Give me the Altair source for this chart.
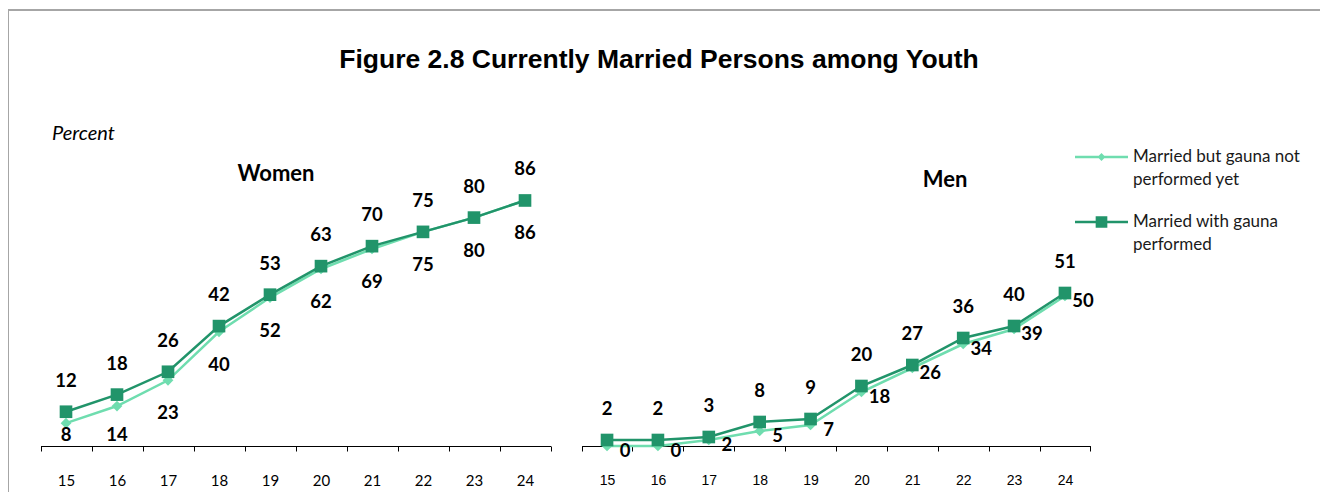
import altair as alt
import pandas as pd

# ---------------- data ----------------
ages = ["15", "16", "17", "18", "19", "20", "21", "22", "23", "24"]
women_not_performed = [8, 14, 23, 40, 52, 62, 69, 75, 80, 86]
women_performed = [12, 18, 26, 42, 53, 63, 70, 75, 80, 86]
men_not_performed = [0, 0, 2, 5, 7, 18, 26, 34, 39, 50]
men_performed = [2, 2, 3, 8, 9, 20, 27, 36, 40, 51]
series_names = ["Married but gauna not performed yet", "Married with gauna performed"]

title_text = "Figure 2.8 Currently Married Persons among Youth"

# ---------------- style ----------------
LIGHT = "#6FDDAF"
DARK = "#21946A"
W, H = 1312, 484
BASE = 438  # pixel row of the x axis inside the view


def frame(vals):
    return pd.DataFrame({"age": ages, "v": vals})


def panel(not_vals, with_vals, xrange, ypx, axis_font, axis_size, men=False):
    xenc = alt.X(
        "age:O",
        scale=alt.Scale(type="band", domain=ages, range=xrange, paddingInner=0, paddingOuter=0),
        axis=alt.Axis(
            orient="bottom", offset=BASE - H, tickBand="extent", labelAngle=0, title=None,
            domainColor="#000000", domainWidth=1, tickColor="#000000", tickSize=5, tickWidth=1,
            labelPadding=22, labelFont=axis_font, labelFontSize=axis_size, labelColor="#000000", grid=False,
        ),
    )
    yscale = alt.Scale(domain=[0, 100], range=[BASE, BASE - ypx])
    yenc = alt.Y("v:Q", scale=yscale, axis=None)

    light = alt.Chart(frame(not_vals))
    dark = alt.Chart(frame(with_vals))

    l_line = light.mark_line(color=LIGHT, strokeWidth=2.5).encode(x=xenc, y=yenc)
    l_pts = light.mark_point(shape="diamond", filled=True, size=115, color=LIGHT, opacity=1).encode(x=xenc, y=yenc)
    d_line = dark.mark_line(color=DARK, strokeWidth=2.5).encode(x=xenc, y=yenc)
    d_pts = dark.mark_point(shape="square", filled=True, size=160, color=DARK, opacity=1).encode(x=xenc, y=yenc)

    lab = dict(font="Lato", fontSize=18.5, fontWeight="bold", color="#000000", baseline="middle", align="center")
    d_txt = dark.mark_text(dy=-31, **lab).encode(x=xenc, y=yenc, text="v:Q")
    if men:
        l_txt = light.mark_text(dx=18, dy=5, **lab).encode(x=xenc, y=yenc, text="v:Q")
    else:
        l_txt = (
            light.transform_calculate(ly="max(datum.v - 11.56, 4)")
            .mark_text(**lab)
            .encode(x=xenc, y=alt.Y("ly:Q", scale=yscale, axis=None), text="v:Q")
        )
    return alt.layer(l_line, l_pts, d_line, d_pts, d_txt, l_txt)


women = panel(women_not_performed, women_performed, [32.5, 542.5], 285.5, "Lato", 15)
men = panel(men_not_performed, men_performed, [573.6, 1082.4], 300, "Liberation Sans", 14, men=True)

one = pd.DataFrame({"a": [0]})

# frame of the chart: only its top and left edges fall inside the window
border_top = alt.Chart(one).mark_rule(color="#A6A6A6", strokeWidth=2).encode(
    x=alt.value(0), x2=alt.value(W), y=alt.value(2)
)
border_left = alt.Chart(one).mark_rule(color="#A6A6A6", strokeWidth=2).encode(
    x=alt.value(0), y=alt.value(1), y2=alt.value(H)
)


def label(text, x, y, **kw):
    return alt.Chart(one).mark_text(baseline="middle", color="#000000", **kw).encode(
        x=alt.value(x), y=alt.value(y), text=alt.value(text)
    )


main_title = label(title_text, 651, 52, font="Liberation Sans", fontSize=26.5, fontWeight="bold", align="center")
percent = label("Percent", 44, 126, font="Lato", fontSize=20, fontStyle="italic", align="left")
women_title = label("Women", 268, 166, font="Lato", fontSize=22, fontWeight="bold", align="center")
men_title = label("Men", 937, 172, font="Lato", fontSize=22, fontWeight="bold", align="center")

# legend symbols: a line with the series marker, drawn in symbol units (1 unit = 26.5 px)
t, d, q = 0.047, 0.15, 0.22
path_light = f"M-1,{-t}H1V{t}H-1Z M0,{-d}L{d},0L0,{d}L{-d},0Z"
path_dark = f"M-1,{-t}H1V{t}H-1Z M{-q},{-q}H{q}V{q}H{-q}Z"

leg = alt.Legend(
    orient="none", legendX=1067, legendY=122.5, title=None, symbolSize=2809, symbolStrokeWidth=0,
    symbolOpacity=1, labelFont="Lato", labelFontSize=17, labelColor="#1a1a1a", labelOffset=5,
    rowPadding=7, padding=0, labelLimit=400,
    labelExpr=("datum.label == 'Married but gauna not performed yet' ? "
               "['Married but gauna not', 'performed yet'] : ['Married with gauna', 'performed']"),
)
legend_layer = (
    alt.Chart(pd.DataFrame({"series": series_names}))
    .transform_filter("false")
    .mark_point(filled=True, opacity=1)
    .encode(
        color=alt.Color("series:N", scale=alt.Scale(domain=series_names, range=[LIGHT, DARK]), legend=leg),
        shape=alt.Shape("series:N", scale=alt.Scale(domain=series_names, range=[path_light, path_dark]), legend=leg),
    )
)

chart = (
    alt.layer(border_top, border_left, main_title, percent, women_title, men_title, women, men, legend_layer)
    .resolve_scale(x="independent", y="independent")
    .properties(width=W, height=H, padding=0, autosize=alt.AutoSizeParams(type="none"))
    .configure(view={"stroke": "transparent", "strokeWidth": 0},
               style={"guide-label": {"lineHeight": 23}})
)

chart.save("out.html", embed_options={"renderer": "svg", "actions": False})
